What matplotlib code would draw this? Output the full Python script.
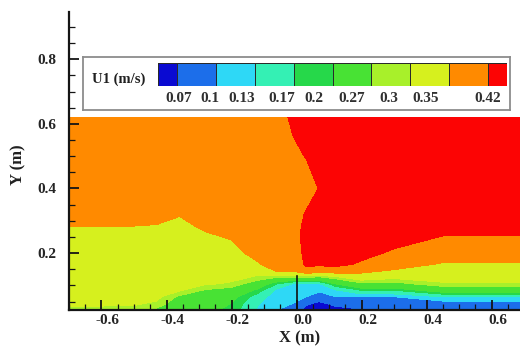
import matplotlib
matplotlib.use('Agg')
import matplotlib.pyplot as plt
import matplotlib.transforms as mtransforms
import numpy as np
from matplotlib.colors import ListedColormap
from matplotlib.ticker import MultipleLocator

plt.rcParams['font.family'] = ['Liberation Serif', 'DejaVu Serif']
plt.rcParams['font.weight'] = 'bold'
plt.rcParams['axes.unicode_minus'] = False

# Contour levels of U1 (m/s) and the band colours
levels = [0.07, 0.1, 0.13, 0.17, 0.2, 0.27, 0.3, 0.35, 0.42]
level_labels = ['0.07', '0.1', '0.13', '0.17', '0.2', '0.27', '0.3', '0.35', '0.42']
band_colors = ['#0a0ad2', '#1c6eea', '#2ed8f6', '#34f0b4', '#26d84a',
               '#48e234', '#a8f02a', '#d6f01e', '#ff8a00', '#fc0404']

# Coarse grid of the velocity field
x_nodes = [-0.70, -0.50, -0.43, -0.36, -0.28, -0.20, -0.12, -0.06,
           -0.01, 0.03, 0.07, 0.12, 0.20, 0.30, 0.45, 0.70]
y_nodes = [0.024, 0.045, 0.065, 0.085, 0.105, 0.125, 0.145, 0.165,
           0.20, 0.24, 0.28, 0.32, 0.40, 0.50, 0.62]

# one column per x node, values from bottom to top
u1_columns = [
    [0.29, 0.31, 0.315, 0.32, 0.32, 0.32, 0.32, 0.325, 0.33, 0.335, 0.348, 0.37, 0.38, 0.385, 0.39],
    [0.29, 0.305, 0.315, 0.32, 0.32, 0.32, 0.32, 0.325, 0.33, 0.335, 0.348, 0.37, 0.38, 0.385, 0.39],
    [0.26, 0.295, 0.31, 0.315, 0.32, 0.32, 0.32, 0.325, 0.33, 0.335, 0.346, 0.365, 0.38, 0.385, 0.39],
    [0.22, 0.24, 0.262, 0.305, 0.315, 0.32, 0.32, 0.325, 0.33, 0.335, 0.34, 0.352, 0.375, 0.385, 0.39],
    [0.21, 0.225, 0.24, 0.265, 0.305, 0.315, 0.32, 0.325, 0.33, 0.34, 0.355, 0.37, 0.38, 0.385, 0.39],
    [0.19, 0.20, 0.215, 0.25, 0.295, 0.31, 0.32, 0.325, 0.335, 0.35, 0.365, 0.375, 0.38, 0.385, 0.39],
    [0.125, 0.135, 0.15, 0.19, 0.24, 0.295, 0.31, 0.345, 0.365, 0.375, 0.38, 0.38, 0.385, 0.39, 0.395],
    [0.10, 0.105, 0.11, 0.12, 0.17, 0.27, 0.355, 0.37, 0.38, 0.385, 0.39, 0.395, 0.40, 0.405, 0.41],
    [0.09, 0.10, 0.11, 0.118, 0.128, 0.27, 0.355, 0.375, 0.39, 0.40, 0.405, 0.41, 0.412, 0.415, 0.425],
    [0.06, 0.075, 0.10, 0.112, 0.125, 0.27, 0.40, 0.43, 0.435, 0.435, 0.43, 0.422, 0.41, 0.421, 0.44],
    [0.05, 0.065, 0.085, 0.105, 0.125, 0.26, 0.38, 0.43, 0.44, 0.445, 0.44, 0.435, 0.421, 0.43, 0.44],
    [0.06, 0.078, 0.10, 0.125, 0.20, 0.29, 0.38, 0.44, 0.45, 0.45, 0.45, 0.45, 0.45, 0.45, 0.45],
    [0.068, 0.085, 0.10, 0.17, 0.26, 0.33, 0.36, 0.41, 0.44, 0.45, 0.45, 0.45, 0.45, 0.45, 0.45],
    [0.068, 0.085, 0.10, 0.17, 0.255, 0.31, 0.345, 0.37, 0.41, 0.44, 0.45, 0.45, 0.45, 0.45, 0.45],
    [0.069, 0.085, 0.13, 0.23, 0.295, 0.315, 0.33, 0.345, 0.375, 0.41, 0.44, 0.45, 0.45, 0.45, 0.45],
    [0.069, 0.085, 0.13, 0.23, 0.295, 0.315, 0.33, 0.345, 0.375, 0.41, 0.44, 0.45, 0.45, 0.45, 0.45],
]

# thin plate at x = 0
plate_x = [0.0, 0.0]
plate_y = [0.024, 0.13]

U1 = np.array(u1_columns).T

W, H = 520, 347
fig = plt.figure(figsize=(W / 100, H / 100), dpi=100)
ax = fig.add_axes([69 / W, 37 / H, 455 / W, 298 / H])

ax.contourf(x_nodes, y_nodes, U1, levels=[-1.0] + levels + [1.0], colors=band_colors)
ax.plot(plate_x, plate_y, color='#101010', lw=1.2)

ax.set_xlim(-0.7, 0.7)
ax.set_ylim(0.024, 0.946)
ax.spines['top'].set_visible(False)
ax.spines['right'].set_visible(False)
for s in ['left', 'bottom']:
    ax.spines[s].set_linewidth(1.6)
    ax.spines[s].set_color('#151515')
ax.xaxis.set_major_locator(MultipleLocator(0.2))
ax.xaxis.set_minor_locator(MultipleLocator(0.05))
ax.yaxis.set_major_locator(MultipleLocator(0.2))
ax.yaxis.set_minor_locator(MultipleLocator(0.05))
ax.set_yticks([0.2, 0.4, 0.6, 0.8])
ax.tick_params(which='both', direction='in', top=False, right=False, color='#151515')
ax.tick_params(which='major', length=7, width=1.3, labelsize=11, labelcolor='#252525')
ax.tick_params(axis='x', which='major', pad=3)
ax.tick_params(axis='y', which='major', pad=9)
ax.tick_params(which='minor', length=4, width=0.9)

# x labels sit a little right of their ticks in the original
shift = mtransforms.ScaledTranslation(6 / 100, 0, fig.dpi_scale_trans)
for lab in ax.get_xticklabels():
    lab.set_transform(lab.get_transform() + shift)

fig.text(18 / W, 1 - 165 / H, 'Y (m)', rotation=90, ha='center', va='center', fontsize=12, color='#202020')
fig.text(300 / W, 1 - 338 / H, 'X (m)', ha='center', va='center', fontsize=12, color='#202020')

# legend box
box = fig.add_axes([83 / W, 1 - 110 / H, 427 / W, 53 / H])
box.set_facecolor('white')
box.set_xticks([])
box.set_yticks([])
for s in box.spines.values():
    s.set_color('#8c8c8c')
    s.set_linewidth(1.3)

fig.text(119 / W, 1 - 79 / H, 'U1 (m/s)', ha='center', va='center', fontsize=10.5, color='#202020')

cb = fig.add_axes([158 / W, 1 - 86 / H, 349 / W, 23 / H])
edges = [0, 0.5, 1.5, 2.5, 3.5, 4.5, 5.5, 6.5, 7.5, 8.5, 9]
cb.pcolormesh(edges, [0, 1], np.arange(10).reshape(1, -1), cmap=ListedColormap(band_colors),
              vmin=-0.5, vmax=9.5, edgecolors='#2a2a2a', linewidth=0.7)
cb.set_xlim(0, 9)
cb.set_ylim(0, 1)
cb.axis('off')

label_px = [179, 210, 242, 282, 314, 352, 389, 426, 488]
for px, txt in zip(label_px, level_labels):
    fig.text(px / W, 1 - 98 / H, txt, ha='center', va='center', fontsize=11, color='#303030')

fig.savefig('out.png', dpi=100)
